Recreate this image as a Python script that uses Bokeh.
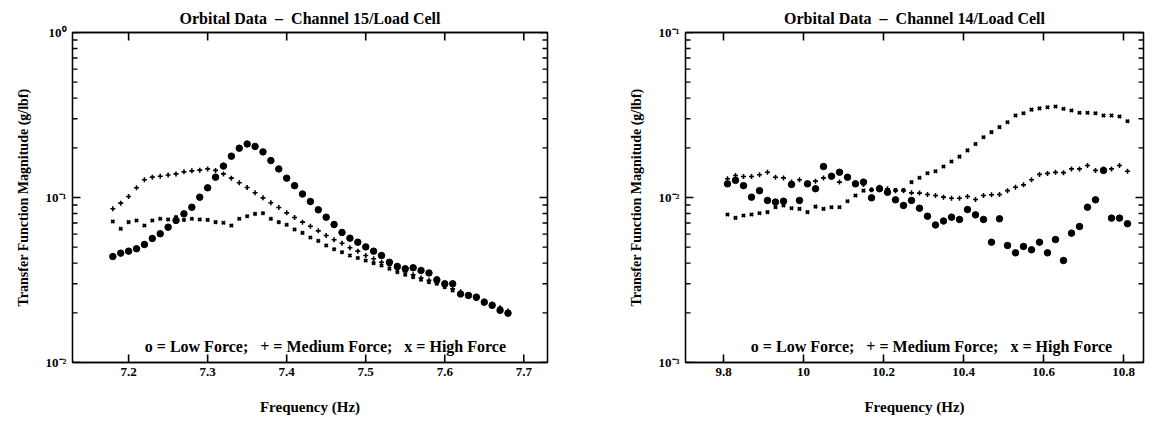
import math
from bokeh.plotting import figure
from bokeh.layouts import row
from bokeh.models import (LinearAxis, LogAxis, FixedTicker,
                          CustomJSTickFormatter, Label, Range1d)
from bokeh.embed import file_html
from bokeh.resources import INLINE

# ---------------- data: Channel 15 ----------------
freq15 = [7.18, 7.19, 7.20, 7.21, 7.22, 7.23, 7.24, 7.25, 7.26, 7.27,
          7.28, 7.29, 7.30, 7.31, 7.32, 7.33, 7.34, 7.35, 7.36, 7.37,
          7.38, 7.39, 7.40, 7.41, 7.42, 7.43, 7.44, 7.45, 7.46, 7.47,
          7.48, 7.49, 7.50, 7.51, 7.52, 7.53, 7.54, 7.55, 7.56, 7.57,
          7.58, 7.59, 7.60, 7.61, 7.62, 7.63, 7.64, 7.65, 7.66, 7.67, 7.68]
low15 = [0.0439, 0.046, 0.0473, 0.0489, 0.0519, 0.0565, 0.0603, 0.0661, 0.0726, 0.0796,
         0.0873, 0.1004, 0.1145, 0.1328, 0.155, 0.178, 0.199, 0.211, 0.204, 0.189,
         0.1675, 0.149, 0.131, 0.118, 0.105, 0.0946, 0.0842, 0.076, 0.0686, 0.0614,
         0.0567, 0.0536, 0.0502, 0.0473, 0.0445, 0.0405, 0.0382, 0.037, 0.0375, 0.0361,
         0.0349, 0.0317, 0.030, 0.030, 0.026, 0.0255, 0.0249, 0.0232, 0.0222, 0.0207, 0.0199]
med15 = [0.0854, 0.0924, 0.1014, 0.1145, 0.128, 0.1328, 0.1346, 0.137, 0.139, 0.143,
         0.145, 0.1465, 0.149, 0.146, 0.139, 0.131, 0.1228, 0.115, 0.1068, 0.0995,
         0.0929, 0.087, 0.0807, 0.0756, 0.0709, 0.067, 0.0628, 0.0589, 0.0554, 0.0528,
         0.0496, 0.0473, 0.0445, 0.0425, 0.0405, 0.039, 0.037, 0.0355, 0.034, 0.0325,
         0.0315, 0.0305, 0.029, 0.028, 0.0268, 0.0258, 0.0247, 0.0236, 0.0226, 0.0215, 0.0205]
high15 = [0.0716, 0.0646, 0.0709, 0.0726, 0.0676, 0.0726, 0.0743, 0.0736, 0.076, 0.0732,
          0.0743, 0.0736, 0.0732, 0.0709, 0.0703, 0.0676, 0.0743, 0.077, 0.0796, 0.0803,
          0.0743, 0.0709, 0.0683, 0.064, 0.061, 0.0572, 0.0546, 0.0512, 0.0486, 0.0466,
          0.0445, 0.043, 0.0415, 0.040, 0.0387, 0.037, 0.0353, 0.0341, 0.0329, 0.0317,
          0.0307, 0.030, 0.0286, 0.0273, 0.026, 0.0255, 0.0243, 0.0232, 0.0222, 0.0212, 0.0202]
xticks15 = [7.2, 7.3, 7.4, 7.5, 7.6, 7.7]
yticks15 = [0.01, 0.1, 1.0]

# ---------------- data: Channel 14 ----------------
freq14 = [9.81, 9.83, 9.85, 9.87, 9.89, 9.91, 9.93, 9.95, 9.97, 9.99,
          10.01, 10.03, 10.05, 10.07, 10.09, 10.11, 10.13, 10.15, 10.17, 10.19,
          10.21, 10.23, 10.25, 10.27, 10.29, 10.31, 10.33, 10.35, 10.37, 10.39,
          10.41, 10.43, 10.45, 10.47, 10.49, 10.51, 10.53, 10.55, 10.57, 10.59,
          10.61, 10.63, 10.65, 10.67, 10.69, 10.71, 10.73, 10.75, 10.77, 10.79, 10.81]
low14 = [0.0121, 0.0127, 0.0118, 0.01005, 0.0110, 0.0096, 0.00938, 0.0095, 0.0120, 0.0096,
         0.0121, 0.0113, 0.0154, 0.01346, 0.01423, 0.01327, 0.0121, 0.0124, 0.00995, 0.0113,
         0.01076, 0.00968, 0.00895, 0.0096, 0.00861, 0.0077, 0.00682, 0.0072, 0.0076, 0.00736,
         0.00845, 0.00785, 0.00736, 0.00536, 0.00743, 0.00512, 0.00462, 0.00505, 0.00482, 0.00536,
         0.00462, 0.00556, 0.00415, 0.00608, 0.00667, 0.00873, 0.00968, 0.0146, 0.0075, 0.0075, 0.00694]
med14 = [0.0130, 0.0136, 0.0134, 0.0134, 0.01375, 0.01423, 0.01327, 0.01315, 0.0124, 0.0128,
         0.01222, 0.01256, 0.01315, 0.0134, 0.0124, 0.0133, 0.0121, 0.0120, 0.01113, 0.01153,
         0.0113, 0.0110, 0.0110, 0.01067, 0.01063, 0.01043, 0.01028, 0.01005, 0.0099, 0.0099,
         0.01015, 0.00973, 0.01028, 0.0104, 0.01043, 0.0110, 0.01153, 0.01193, 0.0128, 0.0138,
         0.0140, 0.0142, 0.01415, 0.0149, 0.0149, 0.01563, 0.0146, 0.0149, 0.0149, 0.01563, 0.01442]
high14 = [0.00788, 0.00753, 0.00778, 0.00788, 0.00803, 0.00815, 0.00873, 0.00895, 0.00861, 0.00853,
          0.00815, 0.00881, 0.00853, 0.00873, 0.00873, 0.0095, 0.01028, 0.0110, 0.01113, 0.0113,
          0.011, 0.0111, 0.0111, 0.0124, 0.01316, 0.01403, 0.01442, 0.0154, 0.01652, 0.0177,
          0.0193, 0.0211, 0.0232, 0.0249, 0.0267, 0.0286, 0.0314, 0.0324, 0.0341, 0.0347,
          0.0352, 0.0356, 0.0345, 0.0337, 0.0326, 0.0326, 0.0324, 0.0314, 0.0314, 0.031, 0.029]
xticks14 = [9.8, 10.0, 10.2, 10.4, 10.6, 10.8]
yticks14 = [0.001, 0.01, 0.1]

NB = "\u00a0"
legend_text = ("o = Low Force;" + NB * 3 + "+ = Medium Force;" + NB * 3 + "x = High Force")
title15 = "Orbital Data" + NB * 2 + "\u2013" + NB * 2 + "Channel 15/Load Cell"
title14 = "Orbital Data" + NB * 2 + "\u2013" + NB * 2 + "Channel 14/Load Cell"
FONT = "Liberation Serif"

YFMT = """
const e = Math.round(Math.log10(tick));
const sup = {"0":"\u2070","1":"\u00b9","2":"\u00b2","3":"\u00b3","-":"\u207b"};
return "10" + String(e).split("").map(c => sup[c]).join("");
"""
XFMT = "return (Math.round(tick*10)/10).toString();"
EMPTY = "return '';"

FIG_W, FIG_H = 578, 423
B_TOP, B_BOTTOM = 32, 61
MAJ_LEN, MIN_LEN = 8, 5


def log_minors(majors):
    out = []
    for m in majors[:-1]:
        out += [m * k for k in range(2, 10)]
    return out


def style_axis(ax, labels=True):
    ax.major_tick_in = 0
    ax.major_tick_out = 0
    ax.minor_tick_in = 0
    ax.minor_tick_out = 0
    ax.axis_line_color = "black"
    ax.axis_line_width = 1.3
    if labels:
        ax.major_label_text_font = FONT
        ax.major_label_text_font_size = "13px"
        ax.major_label_text_font_style = "bold"
        ax.major_label_text_color = "black"
        ax.axis_label_text_font = FONT
        ax.axis_label_text_color = "black"
        ax.axis_label_text_font_style = "bold"
    else:
        ax.formatter = CustomJSTickFormatter(code=EMPTY)
        ax.major_label_standoff = 0
        ax.axis_label_standoff = 0


def frame_ticks(p, xr, yr, xticks, yticks, ymin, fw, fh):
    # inward tick marks on all four sides of the frame
    dx_per_px = (xr[1] - xr[0]) / fw
    dlog_per_px = (math.log10(yr[1]) - math.log10(yr[0])) / fh
    for ticks, length, lw in ((yticks, MAJ_LEN, 1.6), (ymin, MIN_LEN, 1.4)):
        n = len(ticks)
        d = length * dx_per_px
        p.segment(x0=[xr[0]] * n, y0=ticks, x1=[xr[0] + d] * n, y1=ticks,
                  line_color="black", line_width=lw)
        p.segment(x0=[xr[1]] * n, y0=ticks, x1=[xr[1] - d] * n, y1=ticks,
                  line_color="black", line_width=lw)
    k = len(xticks)
    f = 10 ** (MAJ_LEN * dlog_per_px)
    p.segment(x0=xticks, y0=[yr[0]] * k, x1=xticks, y1=[yr[0] * f] * k,
              line_color="black", line_width=1.6)
    p.segment(x0=xticks, y0=[yr[1]] * k, x1=xticks, y1=[yr[1] / f] * k,
              line_color="black", line_width=1.6)


def make_fig(title, freq, low, med, high, xr, yr, xticks, yticks,
             legend_x, legend_y, border_left, border_right):
    p = figure(width=FIG_W, height=FIG_H, y_axis_type="log",
               x_range=Range1d(*xr), y_range=Range1d(*yr),
               output_backend="svg", toolbar_location=None,
               min_border_left=border_left, min_border_right=border_right,
               min_border_top=B_TOP, min_border_bottom=B_BOTTOM)
    p.title.text = title
    p.title.align = "center"
    p.title.text_font = FONT
    p.title.text_font_size = "16px"
    p.title.text_font_style = "bold"
    p.title.text_color = "black"
    p.title.standoff = 12
    p.xgrid.visible = False
    p.ygrid.visible = False
    p.outline_line_color = "black"
    p.outline_line_width = 1.3
    p.background_fill_color = "white"
    p.border_fill_color = "white"

    ymin = log_minors(yticks)

    xa = p.xaxis[0]
    xa.ticker = FixedTicker(ticks=xticks, minor_ticks=[])
    xa.formatter = CustomJSTickFormatter(code=XFMT)
    xa.axis_label = "Frequency (Hz)"
    style_axis(xa)
    xa.axis_label_text_font_size = "15px"
    xa.major_label_standoff = 5
    xa.axis_label_standoff = 20

    ya = p.yaxis[0]
    ya.ticker = FixedTicker(ticks=yticks, minor_ticks=ymin)
    ya.formatter = CustomJSTickFormatter(code=YFMT)
    ya.axis_label = "Transfer Function Magnitude (g/lbf)"
    style_axis(ya)
    ya.axis_label_text_font_size = "14px"
    ya.major_label_standoff = 6
    ya.axis_label_standoff = 12

    top = LinearAxis(ticker=FixedTicker(ticks=xticks, minor_ticks=[]))
    style_axis(top, labels=False)
    p.add_layout(top, "above")
    right = LogAxis(ticker=FixedTicker(ticks=yticks, minor_ticks=ymin))
    style_axis(right, labels=False)
    p.add_layout(right, "right")

    fw = FIG_W - border_left - border_right
    fh = FIG_H - B_TOP - B_BOTTOM
    frame_ticks(p, xr, yr, xticks, yticks, ymin, fw, fh)

    p.scatter(freq, low, marker="circle", size=6.5, color="black")
    p.scatter(freq, med, marker="cross", size=5, line_width=1.6, color="black")
    p.scatter(freq, high, marker="x", size=4.5, line_width=2, color="black")

    p.add_layout(Label(x=legend_x, y=legend_y, text=legend_text,
                       text_align="center", text_baseline="middle",
                       text_font=FONT, text_font_size="16px",
                       text_font_style="bold", text_color="black"))
    return p


p1 = make_fig(title15, freq15, low15, med15, high15,
              (7.129, 7.730), (0.01, 1.0), xticks15, yticks15, 7.449, 0.0125, 72, 31)
p2 = make_fig(title14, freq14, low14, med14, high14,
              (9.705, 10.85), (0.001, 0.1), xticks14, yticks14, 10.32, 0.00125, 107, 13)

layout = row(p1, p2)
open("out.html", "w").write(file_html(layout, INLINE))
